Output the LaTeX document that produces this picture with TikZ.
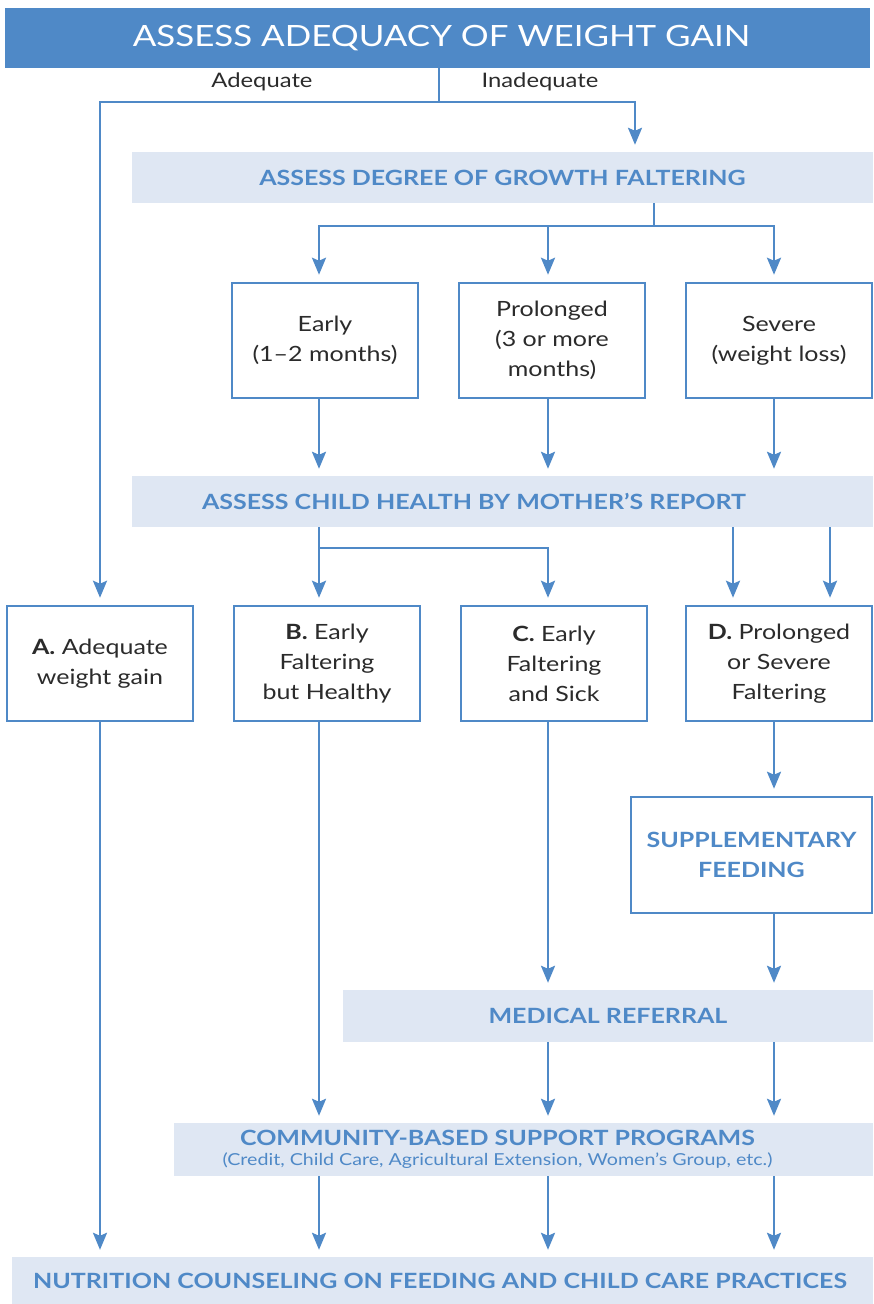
\documentclass[tikz,border=0pt]{standalone}
\usepackage{fontspec}
\setmainfont{Lato}[FakeStretch=1.19]
\usetikzlibrary{arrows.meta,calc}
\definecolor{myblue}{HTML}{4F89C7}
\definecolor{barbg}{HTML}{DFE7F3}
\definecolor{txt}{HTML}{2B2B2B}
\tikzset{
  hdr/.style={fill=myblue,text=white,inner sep=0pt,font=\fontsize{29.3}{30}\selectfont},
  bar/.style={fill=barbg,text=myblue,inner sep=0pt,font=\fontsize{21}{21}\selectfont\bfseries},
  bartxt/.style={text=myblue,inner sep=0pt,align=center,font=\fontsize{21}{21}\selectfont\bfseries},
  box/.style={draw=myblue,line width=2.5pt,fill=white,text=txt,align=center,inner sep=0pt,
     minimum width=186pt,minimum height=115pt,font=\fontsize{21}{30}\selectfont},
  ln/.style={draw=myblue,line width=2.5pt},
  arr/.style={ln,-{Stealth[length=17pt,width=14pt,inset=3pt]},shorten >=7pt},
  lab/.style={text=txt,font=\fontsize{20}{20}\selectfont},
}
\begin{document}
\begin{tikzpicture}[x=1pt,y=-1pt]
\useasboundingbox (0,0) rectangle (873,1304);
% column x positions
\coordinate (c0) at (100,0);
\coordinate (c1) at (319,0);
\coordinate (c2) at (548,0);
\coordinate (c3) at (774,0);
% header
\node[hdr,minimum width=865pt,minimum height=60pt] (hdr) at (437.5,38) {};
\node[hdr,fill=none] (hdrtxt) at (441.5,38) {ASSESS ADEQUACY OF WEIGHT GAIN};
\node[lab] (adq) at (262,82) {Adequate};
\node[lab] (inadq) at (540,82) {Inadequate};
% bars
\node[bar,minimum width=741pt,minimum height=51pt] (deg) at (502.5,177.5) {ASSESS DEGREE OF GROWTH FALTERING};
\node[bar,minimum width=741pt,minimum height=51pt] (health) at (502.5,501.5) {};
\node[bartxt] (healthtxt) at (474,501.5) {ASSESS CHILD HEALTH BY MOTHER'S REPORT};
\node[bar,minimum width=530pt,minimum height=52pt] (med) at (608,1016) {MEDICAL REFERRAL};
\node[bar,minimum width=699pt,minimum height=53pt] (comm) at (523.5,1149.5) {};
\node[bartxt] (commtxt) at (497.5,1149.5)
  {COMMUNITY-BASED SUPPORT PROGRAMS\\[-1pt]{\fontsize{16.5}{18}\selectfont\mdseries (Credit, Child Care, Agricultural Extension, Women's Group, etc.)}};
\node[bar,minimum width=861pt,minimum height=48pt] (nut) at (442.5,1281) {};
\node[bartxt] (nuttxt) at (440,1281) {NUTRITION COUNSELING ON FEEDING AND CHILD CARE PRACTICES};
% boxes row 1
\node[box] (early) at (325,340.5) {Early\\(1--2 months)};
\node[box] (prol) at (552,340.5) {Prolonged\\(3 or more\\months)};
\node[box] (sev) at (779,340.5) {Severe\\(weight loss)};
% boxes row 2
\node[box] (A) at (100,663.5) {\textbf{A.} Adequate\\weight gain};
\node[box] (B) at (327,663.5) {\textbf{B.} Early\\Faltering\\but Healthy};
\node[box] (C) at (554,663.5) {\textbf{C.} Early\\Faltering\\and Sick};
\node[box] (D) at (779,663.5) {\textbf{D.} Prolonged\\or Severe\\Faltering};
\node[box,minimum width=241pt,minimum height=116pt,text=myblue,font=\fontsize{21}{30}\selectfont\bfseries] (sup) at (751.5,855) {SUPPLEMENTARY\\FEEDING};
% connectors top
\coordinate (j1) at ($(hdr.south -| 439,0)+(0,34)$);
\draw[ln] (hdr.south -| j1) -- (j1);
\draw[arr] (j1) -| (c0 |- A.north);
\draw[arr] (j1) -| ([xshift=132.5pt]deg.north);
\coordinate (j2) at ($(deg.south -| 654,0)+(0,23)$);
\draw[ln] (deg.south -| j2) -- (j2);
\draw[arr] (j2) -| (c1 |- early.north);
\draw[arr] (j2) -| (c3 |- sev.north);
\draw[arr] (c2 |- j2) -- (c2 |- prol.north);
% row1 to health
\draw[arr] (c1 |- early.south) -- (c1 |- health.north);
\draw[arr] (c2 |- prol.south) -- (c2 |- health.north);
\draw[arr] (c3 |- sev.south) -- (c3 |- health.north);
% health to row2
\coordinate (j3) at ($(c1 |- health.south)+(0,21)$);
\draw[arr] (c1 |- health.south) -- (c1 |- B.north);
\draw[arr] (j3) -| (c2 |- C.north);
\draw[arr] (health.south -| 733,0) -- (D.north -| 733,0);
\draw[arr] (health.south -| 830,0) -- (D.north -| 830,0);
% row2 downwards
\draw[arr] (c0 |- A.south) -- (c0 |- nut.north);
\draw[arr] (c1 |- B.south) -- (c1 |- comm.north);
\draw[arr] (c2 |- C.south) -- (c2 |- med.north);
\draw[arr] (c3 |- D.south) -- (c3 |- sup.north);
\draw[arr] (c3 |- sup.south) -- (c3 |- med.north);
\draw[arr] (c2 |- med.south) -- (c2 |- comm.north);
\draw[arr] (c3 |- med.south) -- (c3 |- comm.north);
\draw[arr] (c1 |- comm.south) -- (c1 |- nut.north);
\draw[arr] (c2 |- comm.south) -- (c2 |- nut.north);
\draw[arr] (c3 |- comm.south) -- (c3 |- nut.north);
\end{tikzpicture}
\end{document}
